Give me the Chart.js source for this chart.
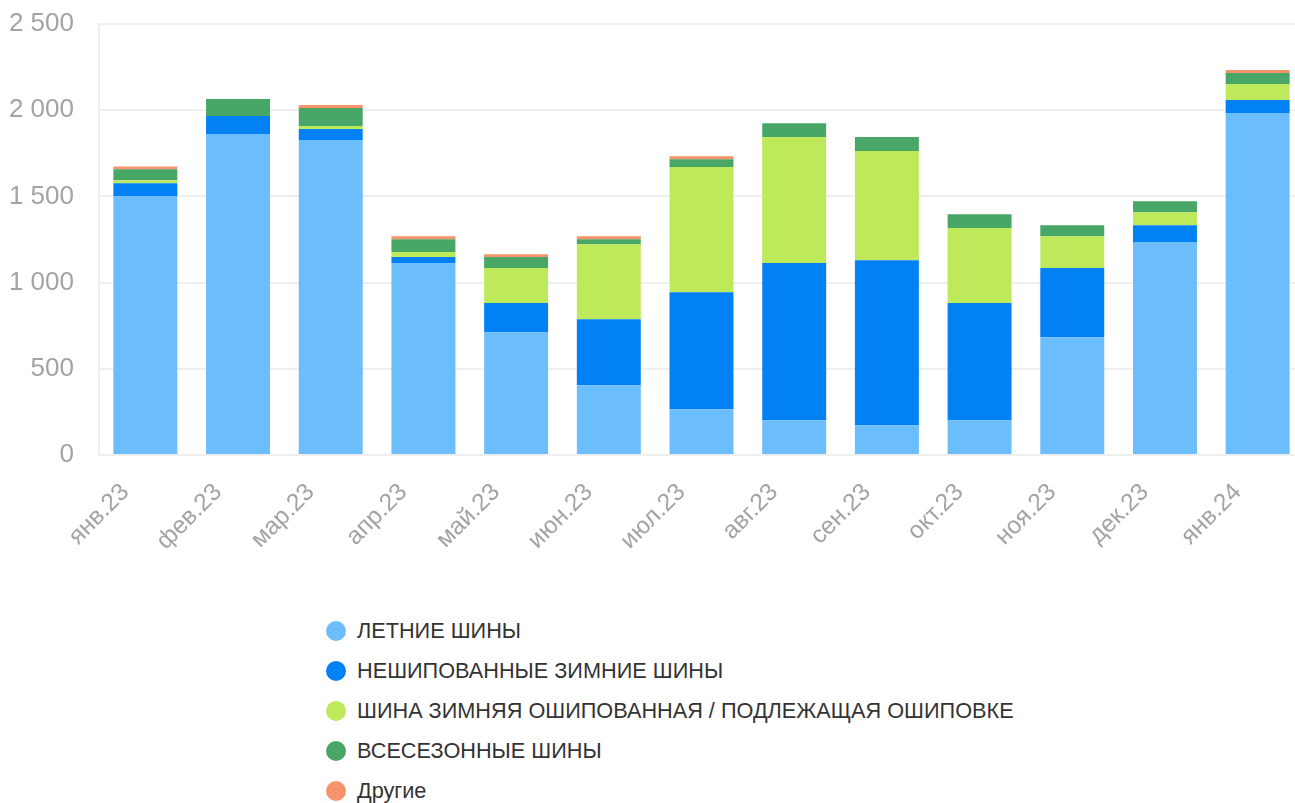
<!DOCTYPE html>
<html>
<head>
<meta charset="utf-8">
<script src="https://cdn.jsdelivr.net/npm/chart.js@4"></script>
<style>
  html, body { margin: 0; padding: 0; background: #fff; overflow: hidden; }
  #wrap { position: absolute; left: 0; top: 0; width: 1310px; height: 560px; }
  #legend { position: absolute; left: 326px; top: 611px; font-family: "Liberation Sans", Arial, sans-serif; font-size: 21.7px; color: #333; }
  #legend div { height: 40px; line-height: 40px; white-space: nowrap; }
  #legend span { display: inline-block; width: 20px; height: 20px; border-radius: 50%; vertical-align: -3px; margin-right: 11px; }
</style>
</head>
<body>
<div id="wrap"><canvas id="chart"></canvas></div>
<div id="legend"></div>
<script>
const months = ['янв.23', 'фев.23', 'мар.23', 'апр.23', 'май.23', 'июн.23', 'июл.23', 'авг.23', 'сен.23', 'окт.23', 'ноя.23', 'дек.23', 'янв.24'];

const summer    = [1502, 1862, 1827, 1113, 712, 405, 265, 201, 172, 201, 683, 1235, 1984];
const studless  = [75, 104, 64, 35, 169, 383, 679, 912, 958, 680, 401, 98, 75];
const studded   = [17, 0, 17, 29, 203, 435, 726, 731, 633, 435, 185, 75, 93];
const allSeason = [63, 99, 105, 75, 64, 29, 46, 81, 81, 81, 64, 64, 64];
const other     = [17, 0, 17, 17, 17, 17, 17, 0, 0, 0, 0, 0, 17];

const yTicks = [0, 500, 1000, 1500, 2000, 2500];

const series = [
    { label: 'ЛЕТНИЕ ШИНЫ', data: summer, color: '#6bbdfb' },
    { label: 'НЕШИПОВАННЫЕ ЗИМНИЕ ШИНЫ', data: studless, color: '#0281f5' },
    { label: 'ШИНА ЗИМНЯЯ ОШИПОВАННАЯ / ПОДЛЕЖАЩАЯ ОШИПОВКЕ', data: studded, color: '#bee95b' },
    { label: 'ВСЕСЕЗОННЫЕ ШИНЫ', data: allSeason, color: '#48a767' },
    { label: 'Другие', data: other, color: '#f6936a' }
];

const fontFamily = '"Liberation Sans", Arial, sans-serif';

new Chart(document.getElementById('chart'), {
    type: 'bar',
    data: {
        labels: months,
        datasets: series.map(s => ({
            label: s.label,
            data: s.data,
            backgroundColor: s.color,
            borderWidth: 0,
            barPercentage: 0.69,
            categoryPercentage: 1
        }))
    },
    options: {
        responsive: true,
        maintainAspectRatio: false,
        animation: false,
        layout: { padding: { top: 24, right: 6, left: 0, bottom: 0 } },
        plugins: {
            legend: { display: false },
            tooltip: { enabled: false }
        },
        scales: {
            x: {
                stacked: true,
                grid: { display: false },
                border: { display: false },
                ticks: {
                    color: '#a3a3a3',
                    font: { family: fontFamily, size: 24.5 },
                    minRotation: 45,
                    maxRotation: 45,
                    padding: 15,
                    labelOffset: -20
                },
                afterFit: scale => {
                    scale.height = 105;
                    scale.paddingLeft = 0;
                    scale.paddingRight = 0;
                }
            },
            y: {
                stacked: true,
                min: 0,
                max: 2500,
                afterBuildTicks: scale => { scale.ticks = yTicks.map(v => ({ value: v })); },
                grid: { color: '#efefef', lineWidth: 2, drawTicks: false },
                border: { display: true, color: '#efefef', width: 2 },
                ticks: {
                    color: '#a3a3a3',
                    font: { family: fontFamily, size: 26 },
                    padding: 25,
                    callback: v => String(v).replace(/\B(?=(\d{3})+(?!\d))/g, ' ')
                },
                afterFit: scale => {
                    scale.width = 99;
                    scale.paddingTop = 0;
                    scale.paddingBottom = 0;
                }
            }
        }
    }
});

const legend = document.getElementById('legend');
series.forEach(s => {
    const row = document.createElement('div');
    const dot = document.createElement('span');
    dot.style.background = s.color;
    row.appendChild(dot);
    row.appendChild(document.createTextNode(s.label));
    legend.appendChild(row);
});
</script>
</body>
</html>
